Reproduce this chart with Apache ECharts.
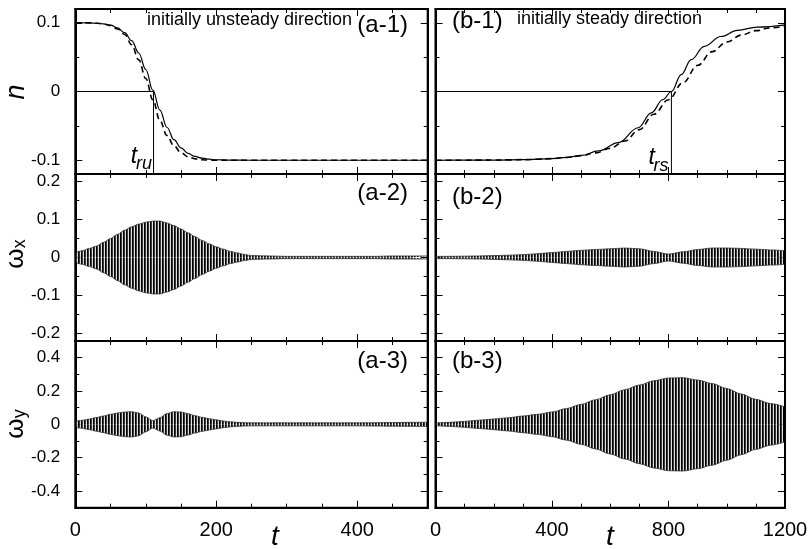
<!DOCTYPE html>
<html><head><meta charset="utf-8">
<script src="https://cdn.jsdelivr.net/npm/echarts@6/dist/echarts.min.js"></script>
<style>html,body{margin:0;padding:0;background:#fff;overflow:hidden}#c{width:811px;height:549px}</style>
</head><body><div id="c"></div>
<script>
// ---------------- data ----------------
// (a-1) n(t), initially unsteady direction
const tA1 = [0,10,20,30,40,50,60,70,80,90,100,110,120,130,140,150,160,170,180,190,200,220,250,300,400,500];
const nA1Solid = [0.100,0.100,0.0998,0.0993,0.0985,0.0965,0.0925,0.0855,0.0740,0.0560,0.0320,0.0020,-0.0270,-0.0520,-0.0700,-0.0820,-0.0900,-0.0945,-0.0970,-0.0985,-0.0993,-0.0998,-0.1,-0.1,-0.1,-0.1];
const nA1Dashed = [0.100,0.100,0.0998,0.0993,0.0983,0.0960,0.0910,0.0830,0.0680,0.0460,0.0190,-0.0120,-0.0420,-0.0640,-0.0790,-0.0890,-0.0950,-0.0980,-0.0993,-0.0998,-0.1,-0.1,-0.1,-0.1,-0.1,-0.1];
const tRU = 111;
// (b-1) n(t), initially steady direction
const tB1s = [0,100,200,300,400,450,500,560,628,696,741,781,810,844,878,923,980,1037,1105,1200];
const nB1Solid = [-0.1000,-0.0999,-0.0997,-0.0991,-0.0975,-0.0958,-0.0930,-0.0865,-0.0744,-0.0527,-0.0310,-0.0116,0.0000,0.0246,0.0464,0.0657,0.0800,0.0890,0.0937,0.0970];
const tB1d = [0,50,100,150,200,250,300,350,400,450,500,550,600,650,700,750,800,850,900,950,1000,1050,1100,1150,1200];
const nB1Dashed = [-0.1000,-0.1000,-0.0999,-0.0998,-0.0997,-0.0995,-0.0991,-0.0985,-0.0976,-0.0960,-0.0935,-0.0893,-0.0825,-0.0720,-0.0555,-0.0330,-0.0120,0.0130,0.0380,0.0580,0.0720,0.0820,0.0885,0.0925,0.0955];
const tRS = 810;
// oscillation envelopes (amplitude of the fast oscillation)
const tA = [0,10,20,30,40,50,60,70,80,90,100,110,120,130,140,150,160,170,180,190,200,210,220,230,240,250,275,300,325,350,375,400,425,450,475,500];
const ampA2 = [0.013,0.018,0.024,0.030,0.040,0.050,0.061,0.072,0.081,0.088,0.093,0.096,0.096,0.091,0.084,0.075,0.065,0.055,0.045,0.036,0.028,0.022,0.016,0.012,0.008,0.005,0.004,0.003,0.003,0.003,0.003,0.003,0.003,0.004,0.004,0.004];
const ampA3 = [0.018,0.024,0.032,0.041,0.050,0.060,0.068,0.074,0.076,0.068,0.045,0.022,0.040,0.065,0.076,0.074,0.064,0.052,0.042,0.034,0.027,0.020,0.015,0.012,0.010,0.009,0.009,0.009,0.009,0.009,0.009,0.009,0.010,0.011,0.012,0.013];
const tB = [0,50,100,150,200,250,300,350,400,450,500,550,600,650,700,750,800,850,900,950,1000,1050,1100,1150,1200];
const ampB2 = [0.003,0.003,0.0035,0.004,0.005,0.006,0.0075,0.010,0.013,0.016,0.019,0.021,0.023,0.025,0.023,0.016,0.009,0.015,0.021,0.025,0.025,0.024,0.022,0.020,0.018];
const ampB3 = [0.008,0.012,0.018,0.025,0.032,0.040,0.050,0.060,0.074,0.095,0.120,0.148,0.178,0.208,0.236,0.262,0.278,0.280,0.266,0.245,0.215,0.182,0.150,0.125,0.105];
// ticks
const xLeftMajor = [0,200,400], xLeftMinor = [50,100,150,250,300,350,450];
const xRightMajor = [0,400,800,1200], xRightMinor = [100,200,300,500,600,700,900,1000,1100];
const yTopMajor = [-0.1,0,0.1], yTopMinor = [-0.05,0.05];
const yMidMajor = [-0.2,-0.1,0,0.1,0.2], yMidMinor = [-0.15,-0.05,0.05,0.15];
const yBotMajor = [-0.4,-0.2,0,0.2,0.4], yBotMinor = [-0.3,-0.1,0.1,0.3];

// ---------------- chart ----------------
const FONT = 'Liberation Sans, Arial, Helvetica, sans-serif';
const chart = echarts.init(document.getElementById('c'), null, {renderer:'canvas'});
const colsX = [75.3, 435.5], colWs = [352.4, 349.5];
const rowsY = [[9,165],[174,167],[341,166.7]];
const xRange = [[0,500],[0,1200]];
const yRange = [[-0.12,0.12],[-0.22,0.22],[-0.5,0.5]];
const xTicks = [[xLeftMajor,xLeftMinor],[xRightMajor,xRightMinor]];
const yTicks = [[yTopMajor,yTopMinor],[yMidMajor,yMidMinor],[yBotMajor,yBotMinor]];

const grids=[], xAxes=[], yAxes=[];
function tick(len, vals){return {show:true, inside:true, length:len, customValues:vals, lineStyle:{color:'#000', width:1}};}
// layer 0: major ticks, frame and labels; layer 1: overlay grids carrying the minor ticks
[0,1].forEach(layer=>{
  for (let r=0;r<3;r++) for (let c=0;c<2;c++){
    const g = grids.length;
    grids.push({left:colsX[c], top:rowsY[r][0], width:colWs[c], height:rowsY[r][1], show:false, outerBoundsMode:'none'});
    const xv = xTicks[c][layer], yv = yTicks[r][layer], len = layer===0?7:4;
    const line = layer===0 ? {show:true, onZero:false, lineStyle:{color:'#000', width:2}} : {show:false, onZero:false};
    ['bottom','top'].forEach(pos=>{
      const lab = (layer===0 && pos==='bottom' && r===2);
      xAxes.push({gridIndex:g, type:'value', min:xRange[c][0], max:xRange[c][1], position:pos,
        axisLine:line, splitLine:{show:false}, axisTick:tick(len,xv),
        axisLabel:{show:lab, customValues:xv, margin:13, color:'#000', fontSize:20, fontFamily:FONT, formatter:v=>String(v)}});
    });
    ['left','right'].forEach(pos=>{
      const lab = (layer===0 && pos==='left' && c===0);
      yAxes.push({gridIndex:g, type:'value', min:yRange[r][0], max:yRange[r][1], position:pos,
        axisLine:line, splitLine:{show:false}, axisTick:tick(len,yv),
        axisLabel:{show:lab, customValues:yv, margin:15, color:'#000', fontSize:17, fontFamily:FONT,
          formatter:v=>String(Math.round(v*100)/100)}});
    });
  }
});
function ax(g){return {xAxisIndex:2*g, yAxisIndex:2*g};}
function zip(t,v,s){return t.map((x,i)=>[x,(s||1)*v[i]]);}

// stripe pattern imitating the dense fast oscillation
const pc = document.createElement('canvas'); pc.width=3; pc.height=2;
const pctx = pc.getContext('2d');
pctx.fillStyle='#e0e0e0'; pctx.fillRect(0,0,3,2);
pctx.fillStyle='#000'; pctx.fillRect(0,0,1,2);
pctx.fillStyle='#3a3a3a'; pctx.fillRect(1,0,1,2);
const stripe = {image:pc, repeat:'repeat'};

const series=[];
function curve(g,t,v,dashed){
  series.push(Object.assign({type:'line', data:zip(t,v), showSymbol:false, symbol:'none', smooth:0.4, smoothMonotone:'x',
    lineStyle:{color:'#000', width:dashed?1.6:1.2, type:dashed?[6,4]:'solid'}, z:3, silent:true}, ax(g)));
}
function guide(g,tr){
  series.push(Object.assign({type:'line', data:[[0,0],[tr,0],[tr,-0.12]], showSymbol:false, symbol:'none',
    lineStyle:{color:'#000', width:1}, z:2, silent:true}, ax(g)));
}
function band(g,t,a){
  [1,-1].forEach(s=>{
    series.push(Object.assign({type:'line', data:zip(t,a,s), showSymbol:false, symbol:'none', smooth:0.3, smoothMonotone:'x',
      lineStyle:{color:'#333', width:0.8}, areaStyle:{color:stripe, opacity:1}, z:2, silent:true}, ax(g)));
  });
}
guide(0,tRU); curve(0,tA1,nA1Solid,false); curve(0,tA1,nA1Dashed,true);
guide(1,tRS); curve(1,tB1s,nB1Solid,false); curve(1,tB1d,nB1Dashed,true);
band(2,tA,ampA2); band(3,tB,ampB2); band(4,tA,ampA3); band(5,tB,ampB3);

const txt = (text,x,y,fs,opts)=>Object.assign({type:'text', x, y, style:Object.assign({text, fill:'#000', font:fs+'px '+FONT, align:'left', verticalAlign:'middle'}, opts||{})});
chart.setOption({
  animation:false, backgroundColor:'#fff',
  grid:grids, xAxis:xAxes, yAxis:yAxes, series
});

// annotations positioned through the axes
function P(g,x,y){return chart.convertToPixel({xAxisIndex:2*g, yAxisIndex:2*g},[x,y]);}
const pRU = P(0,tRU,-0.12), pRS = P(1,tRS,-0.12);
const it = 'italic ';
const frames = [];
for (let r=0;r<3;r++) for (let c=0;c<2;c++){
  const g = r*2+c;
  const a = P(g,xRange[c][0],yRange[r][1]), b = P(g,xRange[c][1],yRange[r][0]);
  frames.push({type:'rect', z:50, silent:true, shape:{x:a[0], y:a[1], width:b[0]-a[0], height:b[1]-a[1]},
    style:{fill:null, stroke:'#000', lineWidth:2}});
}
const graphics = frames.concat([
  txt('initially unsteady direction',147,20,18),
  txt('(a-1)',408,25,24,{align:'right'}),
  txt('initially steady direction',517,19,18),
  txt('(b-1)',452,21,24),
  txt('(a-2)',408,193,24,{align:'right'}),
  txt('(b-2)',452,197,24),
  txt('(a-3)',408,361.5,24,{align:'right'}),
  txt('(b-3)',452,361,24),
  // t_ru / t_rs
  {type:'text', x:pRU[0]-1.5, y:pRU[1]-1, style:{text:'ru', fill:'#000', font:it+'18px '+FONT, align:'right', verticalAlign:'bottom'}},
  {type:'text', x:pRU[0]-16.5, y:pRU[1]-6, style:{text:'t', fill:'#000', font:it+'23px '+FONT, align:'right', verticalAlign:'bottom'}},
  {type:'text', x:pRS[0]-3, y:pRS[1]+0.5, style:{text:'rs', fill:'#000', font:it+'18px '+FONT, align:'right', verticalAlign:'bottom'}},
  {type:'text', x:pRS[0]-16.5, y:pRS[1]-5, style:{text:'t', fill:'#000', font:it+'23px '+FONT, align:'right', verticalAlign:'bottom'}},
  // axis titles
  txt('t',275,537,28,{align:'center', font:it+'28px '+FONT}),
  txt('t',610,537,28,{align:'center', font:it+'28px '+FONT}),
  {type:'text', x:16, y:92, rotation:Math.PI/2, style:{text:'n', fill:'#000', font:it+'27px '+FONT, align:'center', verticalAlign:'middle'}},
  {type:'text', x:16, y:254, rotation:Math.PI/2, style:{text:'{w|ω}{s|x}', fill:'#000', align:'center', verticalAlign:'middle',
     rich:{w:{fontSize:26, fontFamily:FONT, verticalAlign:'top', lineHeight:26}, s:{fontSize:18, fontFamily:FONT, verticalAlign:'bottom', lineHeight:18, padding:[12,0,0,0]}}}},
  {type:'text', x:16, y:424, rotation:Math.PI/2, style:{text:'{w|ω}{s|y}', fill:'#000', align:'center', verticalAlign:'middle',
     rich:{w:{fontSize:26, fontFamily:FONT, verticalAlign:'top', lineHeight:26}, s:{fontSize:18, fontFamily:FONT, verticalAlign:'bottom', lineHeight:18, padding:[12,0,0,0]}}}}
]);
chart.setOption({graphic:graphics});
</script></body></html>
